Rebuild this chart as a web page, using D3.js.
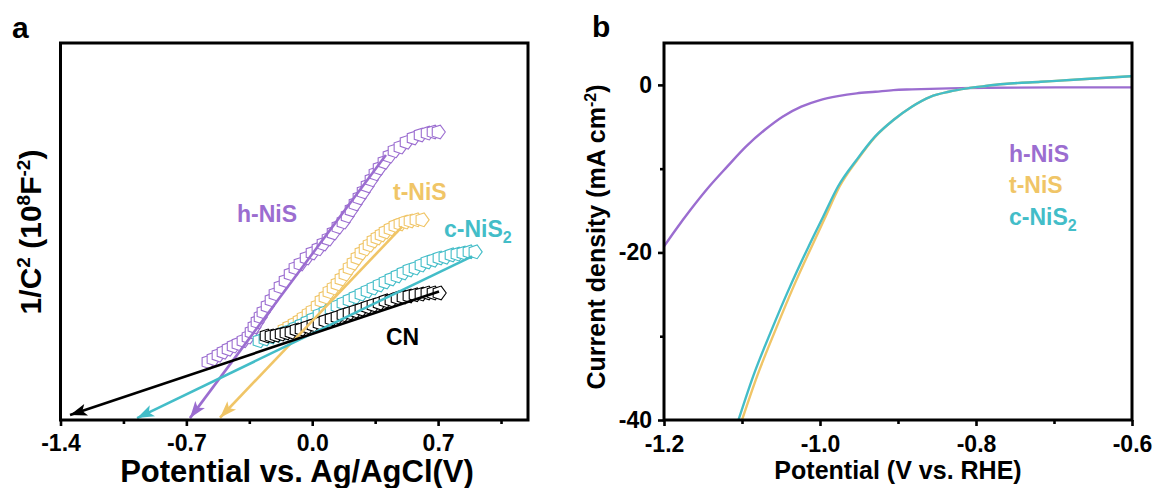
<!DOCTYPE html>
<html>
<head>
<meta charset="utf-8">
<script src="https://cdn.jsdelivr.net/npm/d3@7"></script>
<style>
  body { margin: 0; background: #fff; }
  text { font-family: "Liberation Sans", Arial, sans-serif; font-weight: bold; }
</style>
</head>
<body>
<script>
// ---- Panel a: Mott-Schottky data (potential V vs Ag/AgCl, 1/C^2 in 10^8 F^-2) ----
var msHNiS = [[-0.580,1.54],[-0.552,1.62],[-0.524,1.72],[-0.496,1.80],[-0.468,1.88],[-0.440,1.96],[-0.413,2.02],[-0.385,2.10],[-0.357,2.20],[-0.340,2.33],[-0.324,2.47],[-0.307,2.60],[-0.290,2.73],[-0.274,2.86],[-0.251,3.02],[-0.229,3.18],[-0.207,3.34],[-0.179,3.53],[-0.151,3.69],[-0.123,3.87],[-0.096,4.03],[-0.068,4.14],[-0.034,4.30],[-0.001,4.43],[0.032,4.54],[0.060,4.67],[0.088,4.80],[0.116,4.96],[0.143,5.12],[0.171,5.25],[0.194,5.41],[0.216,5.57],[0.238,5.73],[0.260,5.89],[0.283,6.05],[0.305,6.21],[0.327,6.37],[0.349,6.53],[0.372,6.68],[0.399,6.84],[0.427,7.00],[0.455,7.14],[0.488,7.24],[0.522,7.37],[0.561,7.48],[0.600,7.56],[0.639,7.61],[0.672,7.64],[0.700,7.64]];
var msTNiS = [[-0.157,2.39],[-0.130,2.47],[-0.101,2.55],[-0.073,2.63],[-0.051,2.71],[-0.023,2.81],[-0.001,2.89],[0.027,3.02],[0.049,3.16],[0.071,3.26],[0.093,3.40],[0.116,3.50],[0.138,3.61],[0.160,3.74],[0.182,3.87],[0.205,4.03],[0.227,4.16],[0.249,4.30],[0.271,4.43],[0.294,4.54],[0.316,4.64],[0.338,4.75],[0.360,4.83],[0.383,4.91],[0.405,4.99],[0.433,5.07],[0.460,5.15],[0.488,5.20],[0.516,5.25],[0.544,5.28],[0.577,5.31],[0.610,5.31]];
var msCNiS2 = [[-0.296,2.10],[-0.263,2.15],[-0.229,2.20],[-0.196,2.25],[-0.162,2.31],[-0.129,2.36],[-0.096,2.44],[-0.062,2.52],[-0.029,2.60],[0.004,2.68],[0.038,2.79],[0.071,2.86],[0.105,2.94],[0.138,3.02],[0.171,3.10],[0.205,3.18],[0.238,3.26],[0.271,3.34],[0.305,3.42],[0.338,3.50],[0.372,3.58],[0.405,3.66],[0.438,3.74],[0.472,3.82],[0.505,3.90],[0.538,3.98],[0.572,4.03],[0.605,4.11],[0.638,4.19],[0.672,4.24],[0.705,4.30],[0.738,4.32],[0.772,4.38],[0.805,4.40],[0.838,4.43],[0.872,4.46],[0.905,4.46]];
var msCN = [[-0.257,2.23],[-0.229,2.23],[-0.201,2.25],[-0.173,2.28],[-0.146,2.31],[-0.118,2.33],[-0.090,2.39],[-0.062,2.41],[-0.029,2.47],[0.004,2.52],[0.038,2.57],[0.071,2.63],[0.105,2.68],[0.138,2.73],[0.171,2.79],[0.205,2.84],[0.238,2.89],[0.271,2.94],[0.305,3.00],[0.338,3.05],[0.372,3.10],[0.405,3.16],[0.438,3.18],[0.472,3.24],[0.505,3.26],[0.538,3.29],[0.572,3.32],[0.605,3.34],[0.638,3.37],[0.672,3.37],[0.705,3.37]];

// linear fits extrapolated to the x axis (start, arrow tip)
var fitHNiS = [[0.41,7.03],[-0.68,0.05]];
var fitTNiS = [[0.50,5.13],[-0.513,0.06]];
var fitCNiS2 = [[0.889,4.34],[-0.974,0.05]];
var fitCN = [[0.705,3.41],[-1.347,0.13]];

var ticksA = [-1.4, -0.7, 0.0, 0.7];
var minorA = [-1.05, -0.35, 0.35, 1.05];

// ---- Panel b: LSV data (V vs RHE, mA cm^-2) ----
var lsvHNiS = [[-1.2,-19.28],[-1.185,-17.29],[-1.166,-14.91],[-1.142,-12.13],[-1.119,-9.76],[-1.095,-7.37],[-1.071,-5.39],[-1.048,-3.80],[-1.024,-2.60],[-1.000,-1.81],[-0.977,-1.34],[-0.953,-1.01],[-0.929,-0.82],[-0.906,-0.62],[-0.882,-0.54],[-0.835,-0.42],[-0.788,-0.35],[-0.694,-0.30],[-0.6,-0.30]];
var lsvTNiS = [[-1.100,-40],[-1.0806,-34.76],[-1.0569,-29.21],[-1.0338,-24.05],[-1.0106,-19.28],[-0.9928,-15.70],[-0.9749,-12.13],[-0.9522,-8.96],[-0.9290,-6.17],[-0.9059,-4.19],[-0.8823,-2.60],[-0.8586,-1.42],[-0.8350,-0.82],[-0.8114,-0.42],[-0.7878,-0.14],[-0.7641,0.10],[-0.7169,0.37],[-0.6697,0.64],[-0.6,1.05]];
var lsvCNiS2 = [[-1.1045,-40],[-1.0856,-34.76],[-1.0619,-29.21],[-1.0383,-24.05],[-1.0146,-19.28],[-0.9958,-15.70],[-0.9769,-12.13],[-0.9532,-8.96],[-0.9295,-6.17],[-0.9059,-4.19],[-0.8823,-2.60],[-0.8586,-1.42],[-0.8350,-0.82],[-0.8114,-0.42],[-0.7878,-0.14],[-0.7641,0.10],[-0.7169,0.37],[-0.6697,0.64],[-0.6,1.05]];

var ticksBx = [-1.2, -1.0, -0.8, -0.6];
var minorBx = [-1.1, -0.9, -0.7];
var ticksBy = [0, -20, -40];
var minorBy = [-10, -30];

var purple = "#9b6dd0", yellow = "#f0c567", cyan = "#43bdc8", black = "#000";

var svg = d3.select("body").append("svg")
    .attr("width", 1158)
    .attr("height", 488);

var defs = svg.append("defs");

// arrow heads for the fit lines
function arrowHead(id, col) {
    defs.append("marker")
        .attr("id", id)
        .attr("markerUnits", "userSpaceOnUse")
        .attr("viewBox", "-18 -7 20 14")
        .attr("refX", 0).attr("refY", 0)
        .attr("markerWidth", 20).attr("markerHeight", 14)
        .attr("orient", "auto")
        .append("path")
        .attr("d", "M0,0 L-17,-6 L-13,0 L-17,6 Z")
        .attr("fill", col);
}
arrowHead("arP", purple);
arrowHead("arY", yellow);
arrowHead("arC", cyan);
arrowHead("arK", black);

// pentagon symbol, one vertex pointing right
var pentagon = {
    draw: function(ctx, size) {
        var r = Math.sqrt(size);
        for (var i = 0; i < 5; i++) {
            var a = i * 2 * Math.PI / 5;
            if (i == 0) ctx.moveTo(r * Math.cos(a), r * Math.sin(a));
            else ctx.lineTo(r * Math.cos(a), r * Math.sin(a));
        }
        ctx.closePath();
    }
};

// ================= Panel a =================
var xA = d3.scaleLinear().domain([-1.4, 1.2]).range([60.5, 528]);
var yA = d3.scaleLinear().domain([0, 10]).range([420, 43]);

var gA = svg.append("g");

var seriesA = [
    {data: msHNiS, fit: fitHNiS, col: purple, arrow: "arP"},
    {data: msTNiS, fit: fitTNiS, col: yellow, arrow: "arY"},
    {data: msCNiS2, fit: fitCNiS2, col: cyan, arrow: "arC"},
    {data: msCN, fit: fitCN, col: black, arrow: "arK"}
];

// open pentagon markers, drawn from first to last point
seriesA.forEach(function(s) {
    gA.append("g").selectAll("path")
        .data(s.data)
        .enter()
        .append("path")
        .attr("transform", function(d) { return "translate(" + xA(d[0]) + "," + yA(d[1]) + ")"; })
        .attr("d", d3.symbol(pentagon, 52))
        .attr("fill", "#fff")
        .attr("stroke", s.col)
        .attr("stroke-width", 1.1);
});

var fitLine = d3.line().x(function(d) { return xA(d[0]); }).y(function(d) { return yA(d[1]); });
seriesA.forEach(function(s) {
    gA.append("path")
        .datum(s.fit)
        .attr("d", fitLine)
        .attr("fill", "none")
        .attr("stroke", s.col)
        .attr("stroke-width", 2.6)
        .attr("marker-end", "url(#" + s.arrow + ")");
});

// frame
gA.append("rect")
    .attr("x", 60.5).attr("y", 43)
    .attr("width", 528 - 60.5).attr("height", 420 - 43)
    .attr("fill", "none").attr("stroke", "#000").attr("stroke-width", 3);

// x axis
var axA = gA.append("g").attr("transform", "translate(0,420)")
    .call(d3.axisBottom(xA).tickValues(ticksA).tickSize(6).tickFormat(function(d) { return d.toFixed(1); }));
axA.select(".domain").remove();
axA.selectAll("line").attr("stroke-width", 2.6);
axA.selectAll("text").attr("font-size", 23).attr("fill", "#000").attr("y", 15);
var axA2 = gA.append("g").attr("transform", "translate(0,420)")
    .call(d3.axisBottom(xA).tickValues(minorA).tickSize(4).tickFormat(""));
axA2.select(".domain").remove();
axA2.selectAll("line").attr("stroke-width", 2.6);

gA.append("text").attr("x", 297).attr("y", 482).attr("text-anchor", "middle")
    .attr("font-size", 31).text("Potential vs. Ag/AgCl(V)");

var ytA = gA.append("text").attr("transform", "translate(41,232) rotate(-90)")
    .attr("text-anchor", "middle").attr("font-size", 30);
ytA.append("tspan").text("1/C");
ytA.append("tspan").attr("font-size", 19).attr("dy", -11).text("2");
ytA.append("tspan").attr("dy", 11).text(" (10");
ytA.append("tspan").attr("font-size", 19).attr("dy", -11).text("8");
ytA.append("tspan").attr("dy", 11).text("F");
ytA.append("tspan").attr("font-size", 19).attr("dy", -11).text("-2");
ytA.append("tspan").attr("dy", 11).text(")");

gA.append("text").attr("x", 12).attr("y", 38).attr("font-size", 30).text("a");

gA.append("text").attr("x", 237).attr("y", 222).attr("font-size", 23).attr("fill", purple).text("h-NiS");
gA.append("text").attr("x", 393).attr("y", 200).attr("font-size", 23).attr("fill", yellow).text("t-NiS");
var lc = gA.append("text").attr("x", 444).attr("y", 237).attr("font-size", 23).attr("fill", cyan);
lc.append("tspan").text("c-NiS");
lc.append("tspan").attr("font-size", 16).attr("dy", 6).text("2");
gA.append("text").attr("x", 386).attr("y", 345).attr("font-size", 23).attr("fill", black).text("CN");

// ================= Panel b =================
var xB = d3.scaleLinear().domain([-1.2, -0.6]).range([664, 1132]);
var yB = d3.scaleLinear().domain([-40, 5]).range([420, 43]);

var gB = svg.append("g");

defs.append("clipPath").attr("id", "clipB")
    .append("rect").attr("x", 664).attr("y", 43).attr("width", 1132 - 664).attr("height", 420 - 43);

var lsvLine = d3.line()
    .curve(d3.curveMonotoneX)
    .x(function(d) { return xB(d[0]); })
    .y(function(d) { return yB(d[1]); });

var seriesB = [
    {data: lsvHNiS, col: purple},
    {data: lsvTNiS, col: yellow},
    {data: lsvCNiS2, col: cyan}
];
var linesB = gB.append("g").attr("clip-path", "url(#clipB)");
seriesB.forEach(function(s) {
    linesB.append("path")
        .datum(s.data)
        .attr("d", lsvLine)
        .attr("fill", "none")
        .attr("stroke", s.col)
        .attr("stroke-width", 2.4);
});

gB.append("rect")
    .attr("x", 664).attr("y", 43)
    .attr("width", 1132 - 664).attr("height", 420 - 43)
    .attr("fill", "none").attr("stroke", "#000").attr("stroke-width", 3);

var axBx = gB.append("g").attr("transform", "translate(0,420)")
    .call(d3.axisBottom(xB).tickValues(ticksBx).tickSize(6).tickFormat(function(d) { return d.toFixed(1); }));
axBx.select(".domain").remove();
axBx.selectAll("line").attr("stroke-width", 2.6);
axBx.selectAll("text").attr("font-size", 23).attr("fill", "#000").attr("y", 16);
var axBx2 = gB.append("g").attr("transform", "translate(0,420)")
    .call(d3.axisBottom(xB).tickValues(minorBx).tickSize(4).tickFormat(""));
axBx2.select(".domain").remove();
axBx2.selectAll("line").attr("stroke-width", 2.6);

var axBy = gB.append("g").attr("transform", "translate(664,0)")
    .call(d3.axisLeft(yB).tickValues(ticksBy).tickSize(6).tickFormat(function(d) { return String(d); }));
axBy.select(".domain").remove();
axBy.selectAll("line").attr("stroke-width", 2.6);
axBy.selectAll("text").attr("font-size", 23).attr("fill", "#000").attr("x", -12);
var axBy2 = gB.append("g").attr("transform", "translate(664,0)")
    .call(d3.axisLeft(yB).tickValues(minorBy).tickSize(4).tickFormat(""));
axBy2.select(".domain").remove();
axBy2.selectAll("line").attr("stroke-width", 2.6);

gB.append("text").attr("x", 898).attr("y", 479).attr("text-anchor", "middle")
    .attr("font-size", 25).text("Potential (V vs. RHE)");

var ytB = gB.append("text").attr("transform", "translate(605,237) rotate(-90)")
    .attr("text-anchor", "middle").attr("font-size", 25);
ytB.append("tspan").text("Current density (mA cm");
ytB.append("tspan").attr("font-size", 16).attr("dy", -9).text("-2");
ytB.append("tspan").attr("dy", 9).text(")");

gB.append("text").attr("x", 592).attr("y", 37).attr("font-size", 30).text("b");

gB.append("text").attr("x", 1009).attr("y", 162).attr("font-size", 23).attr("fill", purple).text("h-NiS");
gB.append("text").attr("x", 1009).attr("y", 193).attr("font-size", 23).attr("fill", yellow).text("t-NiS");
var lb = gB.append("text").attr("x", 1009).attr("y", 225).attr("font-size", 23).attr("fill", cyan);
lb.append("tspan").text("c-NiS");
lb.append("tspan").attr("font-size", 16).attr("dy", 6).text("2");
</script>
</body>
</html>
